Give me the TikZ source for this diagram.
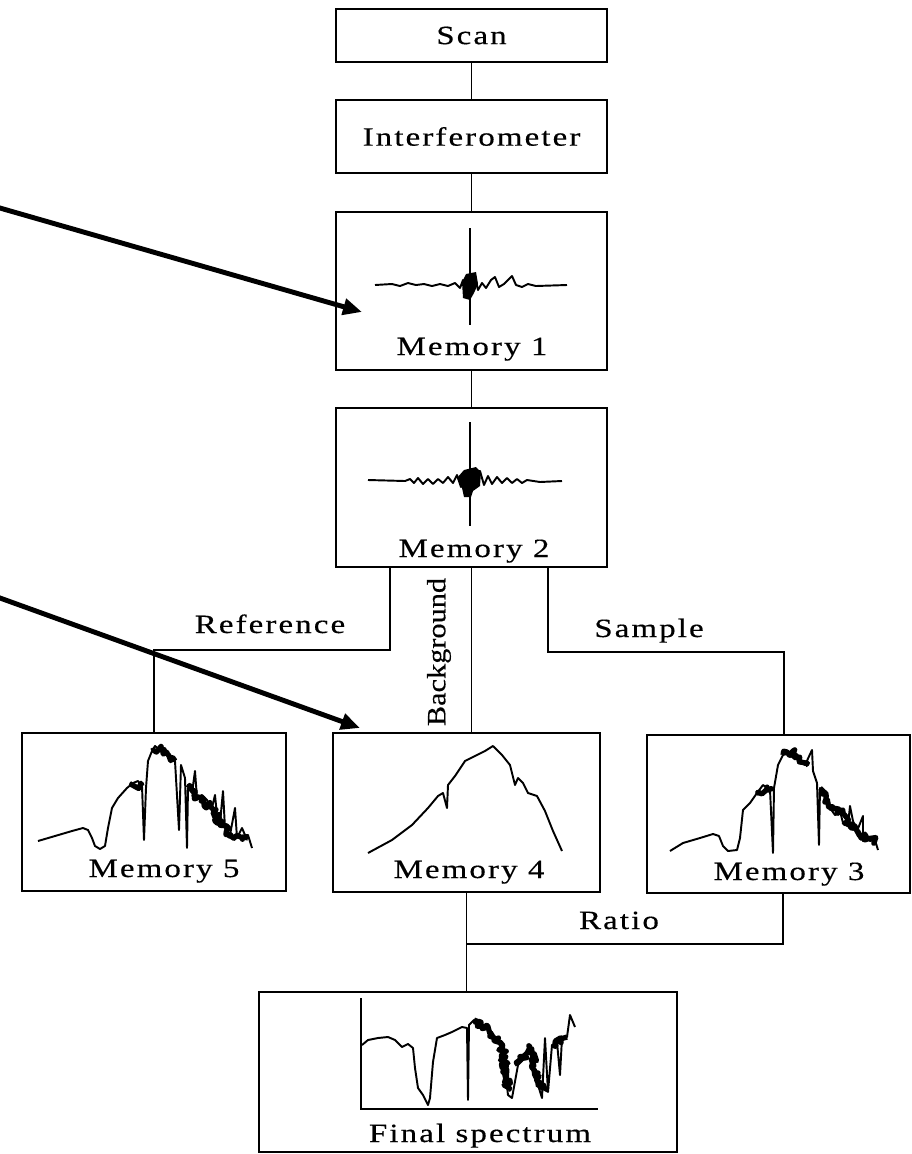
\documentclass[tikz,border=0pt]{standalone}
\usepackage{fontspec}
\setmainfont{Liberation Serif}[FakeStretch=1.25, LetterSpace=8, FakeBold=0.4]
\newfontfamily\bgfont{Liberation Serif}[FakeStretch=1.15, FakeBold=0.4]
\usetikzlibrary{arrows.meta,decorations.pathmorphing}

\begin{document}
\begin{tikzpicture}[x=0.02cm, y=-0.02cm,
    box/.style={draw, line width=1pt, minimum width=5.42cm, inner sep=0pt, align=center, font=\fontsize{15}{18}\selectfont},
    lbl/.style={font=\fontsize{15}{18}\selectfont, inner sep=0pt, anchor=base},
    wire/.style={line width=1pt},
    trace/.style={line width=1.1pt, line join=round},
    noisy/.style={line width=3pt, line join=round, decorate, decoration={random steps, segment length=1pt, amplitude=2pt}},
    spike/.style={line width=1.4pt},
    pointer/.style={line width=2.8pt, -{Triangle[length=0.38cm, width=0.32cm]}}
]
    \useasboundingbox (0,0) rectangle (912,1154);
    \pgfmathsetseed{7}

    % Scan, interferometer and the two interferogram memories
    \node[box, minimum height=1.06cm] (scan) at (471.5,35.5) {Scan};
    \node[box, minimum height=1.46cm] (interf) at (471.5,136.5) {Interferometer};
    \node[box, minimum height=3.16cm] (mem1) at (471.5,291) {};
    \node[box, minimum height=3.18cm] (mem2) at (471.5,487.5) {};

    % Spectrum memories
    \node[box, minimum width=5.28cm, minimum height=3.16cm] (mem5) at (154,812) {};
    \node[box, minimum width=5.34cm, minimum height=3.18cm] (mem4) at (466.5,812.5) {};
    \node[box, minimum width=5.26cm, minimum height=3.16cm] (mem3) at (778.5,814) {};
    \node[box, minimum width=8.36cm, minimum height=3.2cm] (final) at (468,1072) {};

    % Box captions
    \node[lbl] (mem1txt) at (472,355) {Memory 1};
    \node[lbl] (mem2txt) at (474,557) {Memory 2};
    \node[lbl] (mem5txt) at (164,877) {Memory 5};
    \node[lbl] (mem4txt) at (469,878) {Memory 4};
    \node[lbl] (mem3txt) at (789,880) {Memory 3};
    \node[lbl] (finaltxt) at (480,1142) {Final spectrum};

    % Connections
    \coordinate (refbend) at (390,650);
    \coordinate (smpbend) at (548,652);
    \coordinate (smpdrop) at (784,652);
    \coordinate (ratiojoin) at (783,944);
    \draw[wire] (scan) -- (interf);
    \draw[wire] (interf) -- (mem1);
    \draw[wire] (mem1) -- (mem2);
    \draw[wire] (mem2.south) -- (mem2.south |- mem4.north);
    \draw[wire] (mem2.south -| refbend) -- (refbend) -| (mem5.north);
    \draw[wire] (mem2.south -| smpbend) -- (smpbend) -- (smpdrop) -- (smpdrop |- mem3.north);
    \draw[wire] (mem4.south) -- (mem4.south |- final.north);
    \draw[wire] (mem4.south |- ratiojoin) -- (ratiojoin) -- (ratiojoin |- mem3.south);

    % Channel names
    \node[lbl] (reflbl) at (270,633) {Reference};
    \node[lbl] (smplbl) at (649,637) {Sample};
    \node[lbl] (ratiolbl) at (619,929) {Ratio};
    \node[font=\bgfont\fontsize{15}{18}\selectfont, rotate=90, inner sep=0pt] (bglbl) at (439,652) {Background};

    % Memory 1 interferogram
    \draw[trace] (375,285) -- (392,284) -- (400,286) -- (408,283) -- (416,285) -- (424,284) -- (432,286) -- (440,284) -- (448,286) -- (455,283) -- (460,288) -- (463,280) -- (466,293) -- (468,278) -- (472,292) -- (475,276) -- (478,290) -- (482,283) -- (486,288) -- (491,280) -- (495,277) -- (499,287) -- (504,284) -- (508,280) -- (512,276) -- (516,285) -- (522,287) -- (528,284) -- (536,286) -- (567,285);
    \draw[spike] (470,228) -- (470,325);
    \fill (462,282) -- (466,274) -- (476,272) -- (478,284) -- (474,293) -- (470,300) -- (463,298) -- cycle;

    % Memory 2 interferogram
    \draw[trace] (368,480) -- (405,481) -- (410,479) -- (414,483) -- (418,478) -- (423,484) -- (428,479) -- (433,484) -- (438,479) -- (443,483) -- (448,477) -- (453,483) -- (457,475) -- (461,487) -- (465,473) -- (476,471) -- (480,471) -- (484,485) -- (488,476) -- (492,484) -- (497,477) -- (502,483) -- (507,478) -- (512,483) -- (517,479) -- (522,483) -- (527,480) -- (540,482) -- (562,481);
    \draw[spike] (470,422) -- (470,526);
    \fill (457,478) -- (464,470) -- (476,467) -- (481,472) -- (480,486) -- (473,491) -- (471,497) -- (464,497) -- (462,488) -- cycle;

    % Memory 5 reference spectrum
    \draw[trace] (38,841) -- (55,836) -- (72,831) -- (83,828) -- (88,830) -- (92,838) -- (95,846) -- (100,849) -- (105,846) -- (108,828) -- (112,808) -- (118,798) -- (127,788) -- (133,783) -- (138,781) -- (142,786) -- (144,840) -- (146,788) -- (148,761) -- (152,751) -- (155,746) -- (160,750) -- (165,748) -- (169,756) -- (175,761) -- (179,830) -- (181,765) -- (185,778) -- (187,848) -- (188,788) -- (192,793) -- (195,771) -- (197,798) -- (202,795) -- (207,800) -- (212,808) -- (215,795) -- (217,815) -- (220,823) -- (223,791) -- (225,828) -- (230,835) -- (235,808) -- (237,838) -- (242,828) -- (245,835) -- (248,835) -- (252,848);
    \draw[noisy] (152,751) -- (160,750) -- (169,756) -- (175,761);
    \draw[noisy] (188,788) -- (197,798) -- (212,808) -- (220,823) -- (230,835) -- (248,838);
    \draw[noisy] (133,783) -- (142,786);

    % Memory 4 background spectrum
    \draw[trace] (368,853) -- (392,840) -- (412,825) -- (428,808) -- (438,796) -- (443,793) -- (447,808) -- (448,785) -- (455,776) -- (465,761) -- (475,756) -- (485,751) -- (493,746) -- (502,755) -- (510,765) -- (515,785) -- (518,778) -- (523,783) -- (528,793) -- (537,796) -- (545,811) -- (553,831) -- (562,851);

    % Memory 3 sample spectrum
    \draw[trace] (670,851) -- (683,843) -- (700,838) -- (713,834) -- (719,836) -- (723,846) -- (728,851) -- (737,850) -- (740,838) -- (743,810) -- (750,803) -- (757,793) -- (763,785) -- (770,790) -- (773,853) -- (774,788) -- (778,765) -- (783,755) -- (788,753) -- (793,751) -- (798,761) -- (805,765) -- (812,750) -- (813,771) -- (817,783) -- (819,845) -- (820,788) -- (825,795) -- (830,808) -- (835,815) -- (840,811) -- (843,823) -- (848,825) -- (850,806) -- (853,821) -- (857,831) -- (863,816) -- (863,841) -- (867,838) -- (870,841) -- (875,840) -- (878,850);
    \draw[noisy] (783,755) -- (793,751) -- (805,765);
    \draw[noisy] (820,788) -- (830,808) -- (840,811) -- (848,825) -- (857,831) -- (867,838) -- (875,840);
    \draw[noisy] (757,793) -- (770,790);

    % Final transmittance spectrum with axes
    \draw[wire] (361,998) -- (361,1109) -- (598,1109);
    \draw[trace] (362,1045) -- (368,1040) -- (378,1038) -- (388,1037) -- (395,1040) -- (402,1047) -- (408,1044) -- (413,1048) -- (415,1068) -- (418,1088) -- (423,1095) -- (428,1105) -- (430,1098) -- (433,1062) -- (437,1038) -- (445,1035) -- (452,1032) -- (462,1027) -- (467,1028) -- (468,1100) -- (469,1025) -- (474,1020) -- (478,1027) -- (485,1028) -- (492,1032) -- (498,1042) -- (503,1052) -- (508,1095) -- (512,1098) -- (518,1065) -- (525,1058) -- (530,1047) -- (533,1075) -- (538,1085) -- (542,1098) -- (545,1038) -- (548,1092) -- (552,1045) -- (557,1042) -- (560,1075) -- (562,1038) -- (567,1037) -- (570,1015) -- (575,1027);
    \draw[noisy] (474,1020) -- (485,1028) -- (498,1042) -- (503,1052) -- (508,1090);
    \draw[noisy] (518,1065) -- (530,1047) -- (538,1085) -- (548,1090);
    \draw[noisy] (552,1045) -- (557,1042) -- (567,1037);

    % Pointers
    \coordinate (ptr1tail) at (-5,206.6);
    \coordinate (ptr1tip) at (362,312);
    \coordinate (ptr2tail) at (-5,596.2);
    \coordinate (ptr2tip) at (360,728);
    \draw[pointer] (ptr1tail) -- (ptr1tip);
    \draw[pointer] (ptr2tail) -- (ptr2tip);
\end{tikzpicture}
\end{document}
